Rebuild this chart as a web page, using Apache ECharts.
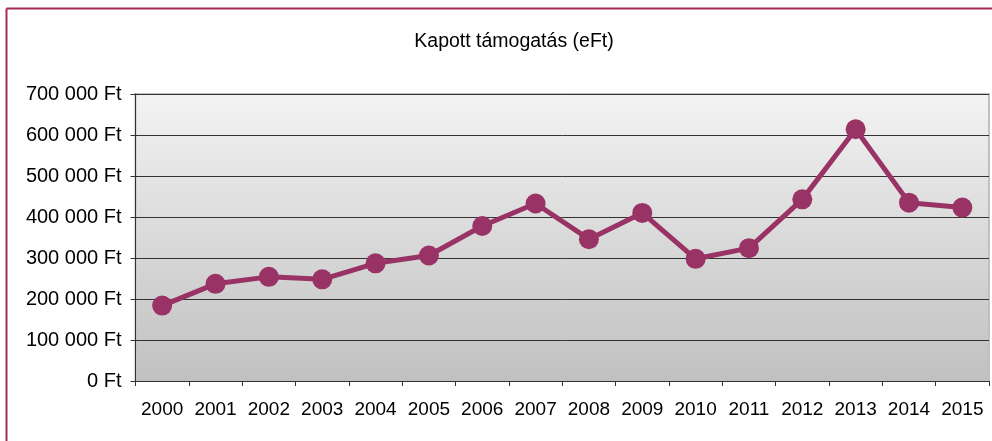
<!DOCTYPE html>
<html>
<head>
<meta charset="utf-8">
<script src="https://cdn.jsdelivr.net/npm/echarts@6/dist/echarts.min.js"></script>
<style>
html,body{margin:0;padding:0;background:#fff;}
#chart{width:992px;height:441px;}
</style>
</head>
<body>
<div id="chart"></div>
<script>
const title = "Kapott támogatás (eFt)";
const years = ["2000","2001","2002","2003","2004","2005","2006","2007","2008","2009","2010","2011","2012","2013","2014","2015"];
const support = [184000,237000,254000,248000,287000,306000,378000,433000,346000,410000,298000,324000,443000,614000,435000,423000];
const yMin = 0, yMax = 700000, yStep = 100000;

function fmt(v){
  return String(v).replace(/\B(?=(\d{3})+(?!\d))/g, " ") + " Ft";
}

const chart = echarts.init(document.getElementById('chart'), null, {renderer:'canvas'});
const font = '"Liberation Sans", Arial, sans-serif';
chart.setOption({
  animation:false,
  backgroundColor:'#fff',
  title:{
    text:title, left:509, top:27, textAlign:'center',
    textStyle:{fontFamily:font, fontSize:19.5, fontWeight:'normal', color:'#000'}
  },
  grid:{
    left:135.5, right:3, top:94, bottom:60,
    show:true,
    borderColor:'#c0c0c0', borderWidth:2,
    backgroundColor: new echarts.graphic.LinearGradient(0,0,0,1,[
      {offset:0,color:'#f3f3f3'},{offset:1,color:'#c0c0c0'}
    ])
  },
  xAxis:{
    type:'category', data:years, boundaryGap:true,
    axisLine:{lineStyle:{color:'#333',width:1}},
    axisTick:{show:true, length:5, lineStyle:{color:'#333'}},
    axisLabel:{fontFamily:font, fontSize:19, color:'#000', margin:19, interval:0},
    splitLine:{show:false}
  },
  yAxis:{
    type:'value', min:yMin, max:yMax, interval:yStep,
    axisLine:{show:true, lineStyle:{color:'#333',width:1}},
    axisTick:{show:true, length:5, lineStyle:{color:'#333'}},
    axisLabel:{fontFamily:font, fontSize:20, color:'#000', margin:14, formatter:fmt},
    splitLine:{show:true, lineStyle:{color:'#333', width:1}}
  },
  series:[{
    type:'line', data:support,
    symbol:'circle', symbolSize:20,
    lineStyle:{color:'#993366', width:5},
    itemStyle:{color:'#993366'}
  }],
  graphic:[
    {type:'line', shape:{x1:6.5,y1:8.5,x2:992,y2:8.5}, style:{stroke:'#a52a5a', lineWidth:2}},
    {type:'line', shape:{x1:6.5,y1:8.5,x2:6.5,y2:441}, style:{stroke:'#a52a5a', lineWidth:2}}
  ]
});
</script>
</body>
</html>
